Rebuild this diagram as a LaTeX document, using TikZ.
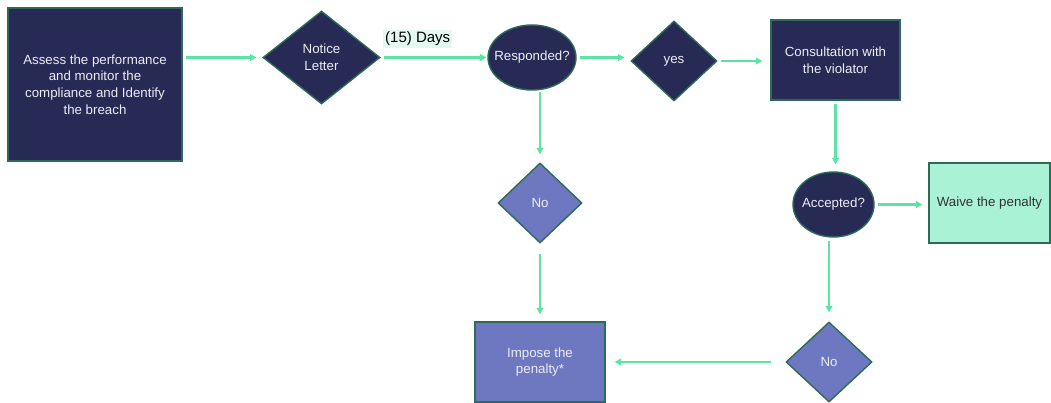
\documentclass[tikz,border=0pt]{standalone}
\usepackage{fontspec}
\setmainfont{Liberation Sans}
\usetikzlibrary{shapes.geometric,arrows.meta}
\definecolor{navy}{HTML}{262A55}
\definecolor{lav}{HTML}{6E78C0}
\definecolor{mint}{HTML}{A9F2D5}
\definecolor{edgec}{HTML}{2F6A58}
\definecolor{arrowc}{HTML}{5DE3A4}
\definecolor{lbl}{HTML}{E3F8F1}
\definecolor{ltext}{HTML}{ECECF4}
\definecolor{dtext}{HTML}{333333}
\begin{document}
\begin{tikzpicture}[x=1pt,y=-1pt,
  every node/.style={font=\fontsize{13.3}{16.7}\selectfont, align=center, inner sep=0pt},
  darkn/.style={fill=navy, draw=edgec, line width=1.4pt, text=ltext},
  lavn/.style={fill=lav, draw=edgec, line width=1.4pt, text=ltext},
  mintn/.style={fill=mint, draw=edgec, line width=1.4pt, text=dtext},
  rbox/.style={rectangle, minimum width=#1},
  dia/.style={diamond, minimum height=80pt, minimum width=#1},
  ell/.style={ellipse, minimum height=65pt, minimum width=#1},
  arr/.style={draw=arrowc, line width=2.2pt, -{Triangle[length=6.5pt,width=7pt]}, shorten <=3pt, shorten >=6pt}]
\useasboundingbox (0,0) rectangle (1051,403);

\node[darkn, rbox=174pt, minimum height=153pt] (assess) at (95,84.5)
  {Assess the performance\\and monitor the\\compliance and Identify\\the breach};
\node[darkn, dia=117pt, minimum height=93pt] (notice) at (321.5,57.5) {Notice\\Letter};
\node[darkn, ell=88pt] (resp) at (532,57.5) {\makebox[0pt]{Responded?}};
\node[darkn, dia=86pt] (yes) at (674,61) {yes};
\node[darkn, rbox=129pt, minimum height=80pt] (consult) at (835.5,60) {Consultation with\\the violator};
\node[lavn, dia=84pt] (no1) at (540,203) {No};
\node[darkn, ell=81pt] (accept) at (833.5,204.5) {\makebox[0pt]{Accepted?}};
\node[mintn, rbox=121pt, minimum height=80pt] (waive) at (989.5,203) {Waive the penalty};
\node[lavn, dia=86pt] (no2) at (829,362) {No};
\node[lavn, rbox=130pt, minimum height=80pt] (impose) at (540,362) {Impose the\\penalty*};

\node[fill=lbl, font=\fontsize{15}{18}\selectfont, inner xsep=2pt, minimum height=18pt, anchor=west] (days) at (383,39) {(15) Days};

\draw[arr] (assess.east |- notice.west) -- (notice.west);
\draw[arr, shorten >=1pt] (notice.east) -- (resp.west);
\draw[arr] (resp.east) -- (resp.east -| yes.west);
\draw[arr, shorten >=8pt] (yes.east) -- (yes.east -| consult.west);
\draw[arr, shorten >=7pt] (consult.south) -- (consult.south |- accept.north);
\draw[arr] (accept.east) -- (accept.east -| waive.west);
\draw[arr, shorten >=9pt] (no2.north |- accept.south) -- (no2.north);
\draw[arr, shorten <=14pt, shorten >=9pt] (no2.west) -- (impose.east);
\draw[arr, shorten <=1pt, shorten >=8pt] (no1.north |- resp.south) -- (no1.north);
\draw[arr, shorten <=10pt, shorten >=7pt] (no1.south) -- (impose.north);
\end{tikzpicture}
\end{document}
